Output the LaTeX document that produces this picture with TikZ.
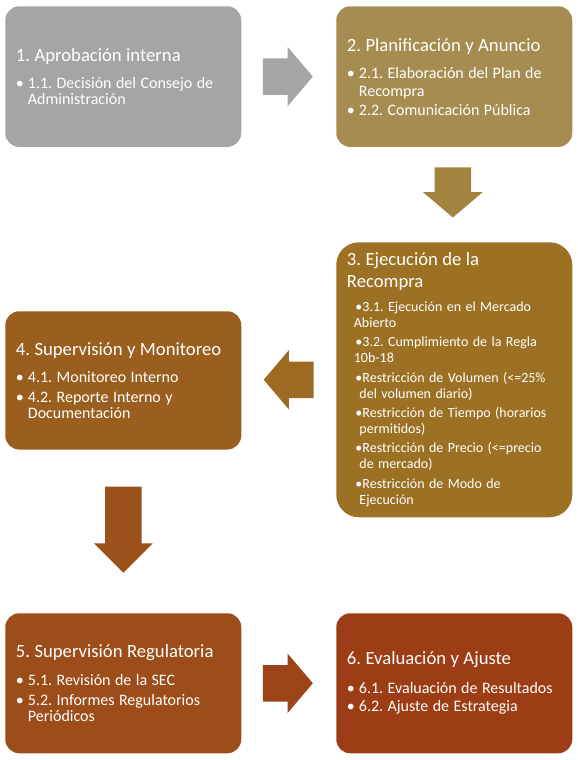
\documentclass[tikz,border=0pt]{standalone}
\usepackage{fontspec}
\setmainfont{Carlito}
\usetikzlibrary{shapes.arrows}

\definecolor{colgray}{HTML}{A5A5A5}
\definecolor{colplan}{HTML}{A68C51}
\definecolor{arrplan}{HTML}{A3843F}
\definecolor{colejec}{HTML}{9C7124}
\definecolor{arrejec}{HTML}{9C6A22}
\definecolor{colmonit}{HTML}{9A5E1F}
\definecolor{arrmonit}{HTML}{9B521A}
\definecolor{colregul}{HTML}{9C4D19}
\definecolor{arrregul}{HTML}{9C4317}
\definecolor{colajuste}{HTML}{9C3D15}

\frenchspacing
\newcommand\stitle{\fontsize{14pt}{16pt}\selectfont}
\newcommand\sbody{\fontsize{12pt}{13.1pt}\selectfont}
\newcommand\ssmall{\fontsize{10.5pt}{12pt}\selectfont}
% bullet line, continuation line
\newcommand\bpoint[1]{\par\vspace{2pt}\noindent\makebox[9pt][l]{\textbullet}#1}
\newcommand\bcont[1]{\par\noindent\hspace*{9pt}#1}
% compact bullets of box 3
\newcommand\cpoint[1]{\par\vspace{2.55pt}\noindent\hspace*{6.4pt}\textbullet#1}
\newcommand\ccont[2]{\par\noindent\hspace*{#1}#2}

\begin{document}
\begin{tikzpicture}[x=0.75pt,y=0.75pt,yscale=-1,xscale=1,
    stepbox/.style={rectangle, rounded corners=10.5pt, text=white, align=left, anchor=north west,
      inner xsep=8pt, inner ysep=2pt, text width=161pt},
    flowarrow/.style={single arrow, anchor=tail, inner xsep=0pt, inner ysep=13.5pt,
      single arrow head extend=8.625pt, single arrow tip angle=99.4, minimum height=37.5pt}]
    \useasboundingbox (0,0) rectangle (578,760); %set diagram 578 wide, 760 high

    % Boxes
    \node [stepbox, fill=colgray, minimum height=105.5pt] (aprob) at (5,6)
      {{\stitle 1. Aprobación interna\par}\vspace{5.8pt}\sbody
       \bpoint{1.1. Decisión del Consejo de}
       \bcont{Administración}};
    \node [stepbox, fill=colplan, minimum height=105.5pt] (planif) at (336,6)
      {{\stitle 2. Planificación y Anuncio\par}\vspace{5.8pt}\sbody
       \bpoint{2.1. Elaboración del Plan de}
       \bcont{Recompra}
       \bpoint{2.2. Comunicación Pública}};
    \node [stepbox, fill=colejec, rounded corners=17pt, minimum height=206.25pt] (ejec) at (336,242)
      {{\stitle 3. Ejecución de la\par\noindent Recompra\par}\vspace{3.45pt}\ssmall
       \cpoint{3.1. Ejecución en el Mercado}
       \ccont{5.2pt}{Abierto}
       \cpoint{3.2. Cumplimiento de la Regla}
       \ccont{5.2pt}{10b-18}
       \cpoint{Restricción de Volumen (<=25\%}
       \ccont{9.4pt}{del volumen diario)}
       \cpoint{Restricción de Tiempo (horarios}
       \ccont{9.4pt}{permitidos)}
       \cpoint{Restricción de Precio (<=precio}
       \ccont{9.4pt}{de mercado)}
       \cpoint{Restricción de Modo de}
       \ccont{9.4pt}{Ejecución}};
    \node [stepbox, fill=colmonit, minimum height=103.7pt] (monit) at (5,311)
      {{\stitle 4. Supervisión y Monitoreo\par}\vspace{5pt}\sbody
       \bpoint{4.1. Monitoreo Interno}
       \bpoint{4.2. Reporte Interno y}
       \bcont{Documentación}};
    \node [stepbox, fill=colregul, minimum height=105pt] (regul) at (5,613)
      {{\stitle 5. Supervisión Regulatoria\par}\vspace{6pt}\sbody
       \bpoint{5.1. Revisión de la SEC}
       \bpoint{5.2. Informes Regulatorios}
       \bcont{Periódicos}};
    \node [stepbox, fill=colajuste, minimum height=105pt] (ajuste) at (336,613)
      {{\stitle 6. Evaluación y Ajuste\par}\vspace{6pt}\sbody
       \bpoint{6.1. Evaluación de Resultados}
       \bpoint{6.2. Ajuste de Estrategia}};

    % Arrows
    \node [flowarrow, fill=colgray] (a12) at ([xshift=15.75pt]aprob.east) {};
    \node [flowarrow, fill=arrplan, rotate=-90] (a23) at ([xshift=-1.1pt,yshift=15pt]planif.south) {};
    \node [flowarrow, fill=arrejec, rotate=180] (a34) at ([xshift=-16.5pt]ejec.west) {};
    \node [flowarrow, fill=arrmonit, rotate=-90, minimum height=64.5pt, single arrow head extend=8.25pt,
      single arrow tip angle=90] (a45) at ([yshift=27.5pt]monit.south) {};
    \node [flowarrow, fill=arrregul] (a56) at ([xshift=15.75pt]regul.east) {};
\end{tikzpicture}
\end{document}
